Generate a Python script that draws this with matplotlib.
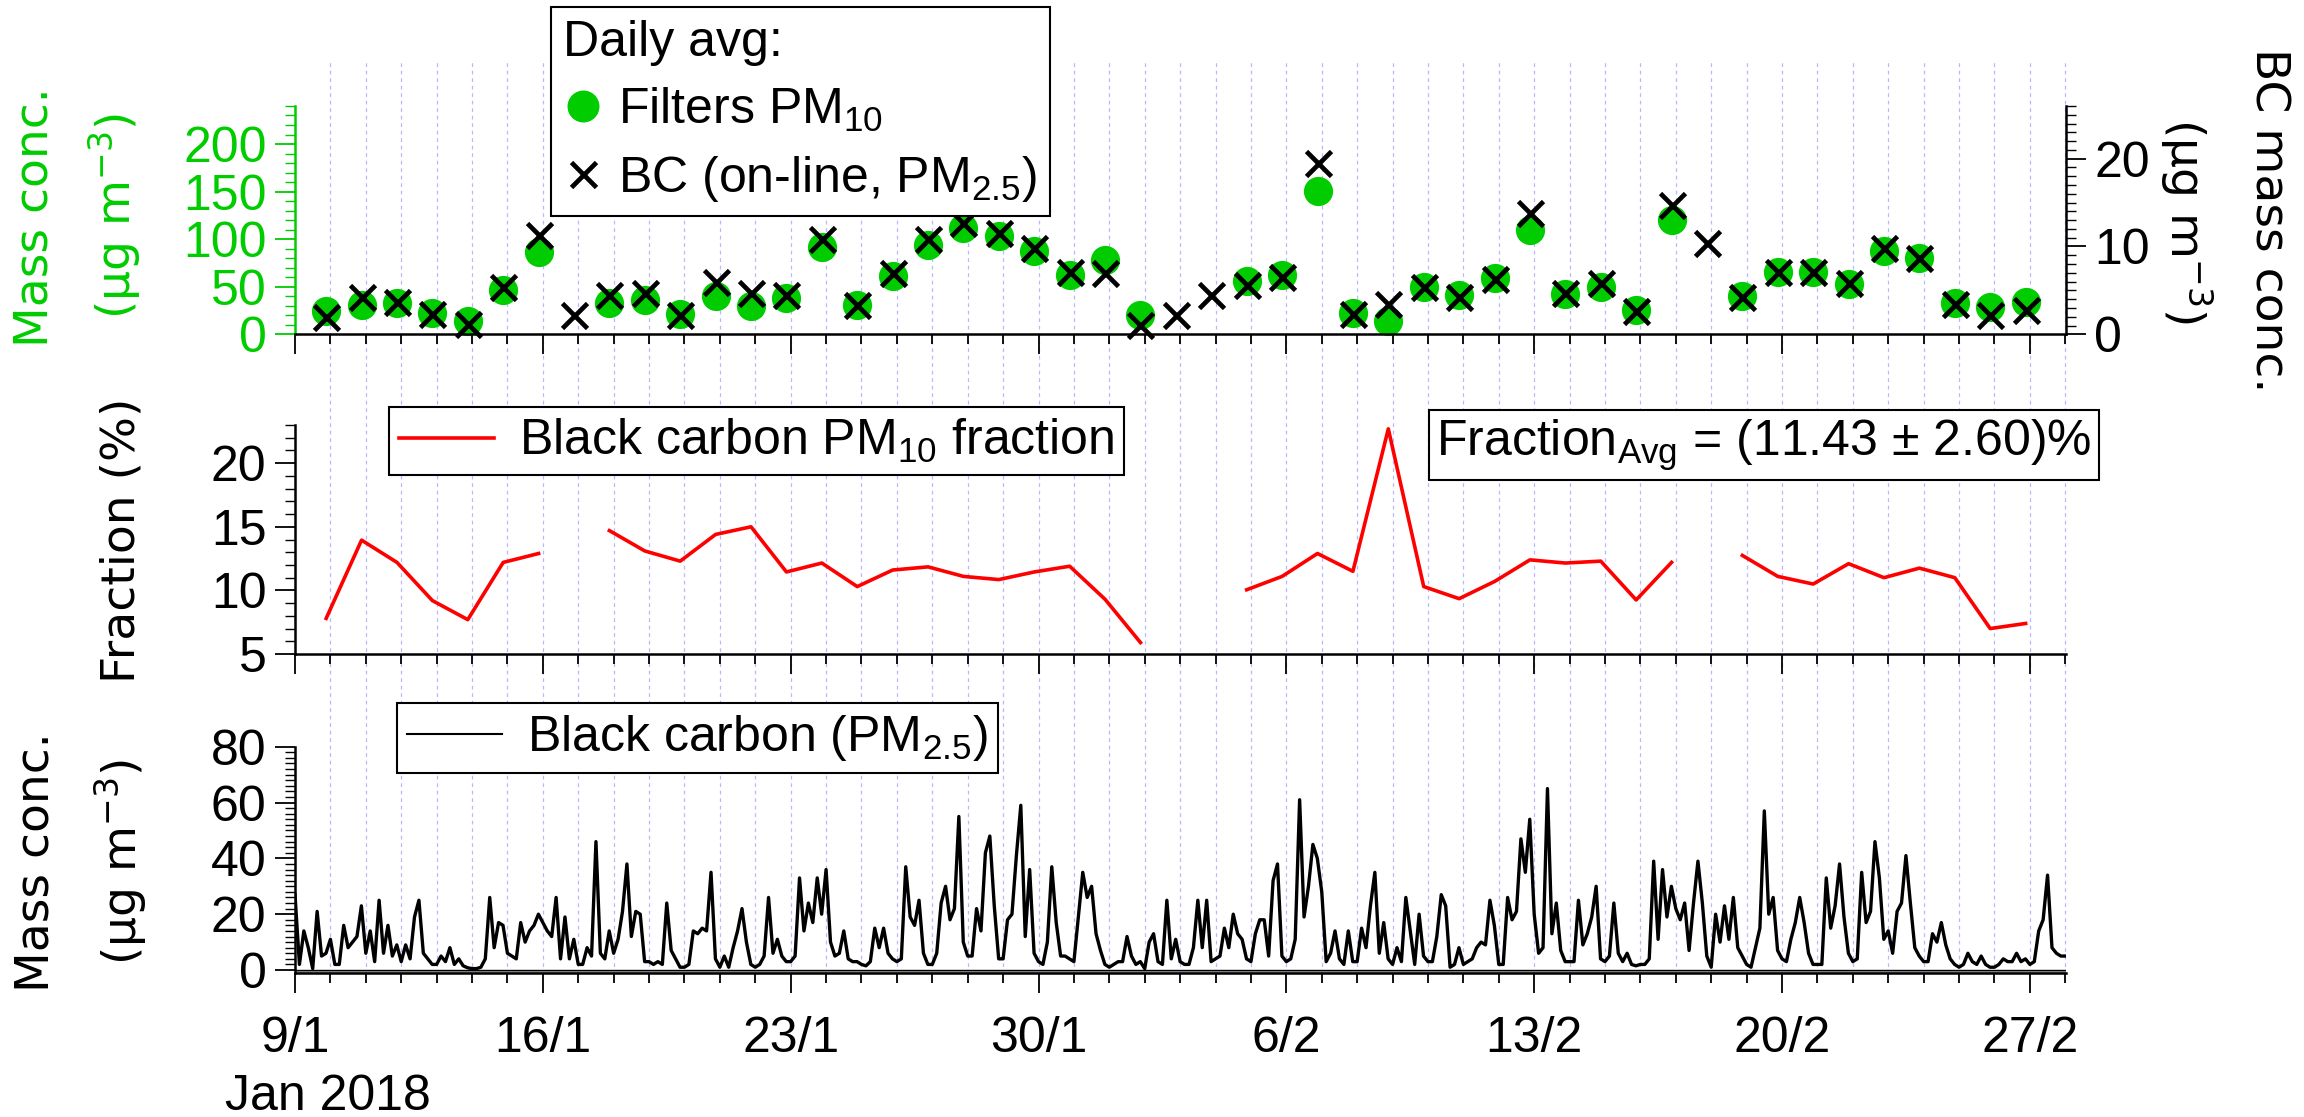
import datetime as dt
import numpy as np
import matplotlib
matplotlib.use("Agg")
import matplotlib.pyplot as plt
import matplotlib.dates as mdates
import matplotlib.transforms as mtransforms
from matplotlib.lines import Line2D
from matplotlib.ticker import MultipleLocator, FixedLocator

plt.rcParams['font.family'] = ['Liberation Sans', 'DejaVu Sans']
plt.rcParams['mathtext.fontset'] = 'custom'
plt.rcParams['mathtext.rm'] = 'Liberation Sans'
plt.rcParams['mathtext.default'] = 'regular'

GREEN = '#00cc00'
FS = 36

# daily values, 10 Jan .. 27 Feb 2018 (nan = no sample)
pm10_filter = [24, 31, 33, 22, 14, 47, 87, np.nan, 33, 36, 21, 40, 30, 38, 92, 31, 61, 94, 112, 103, 88, 62,
               78, 20, np.nan, np.nan, 56, 62, 151, 22, 14, 50, 41, 59, 110, 42, 50, 26, 120, np.nan,
               40, 65, 66, 53, 88, 80, 33, 29, 34]
bc_daily = [2.0, 4.2, 3.7, 2.3, 1.2, 5.4, 11.3, 2.2, 4.5, 4.7, 2.2, 6.0, 4.7, 4.5, 10.8, 3.3, 7.0, 10.9, 12.7, 11.5, 9.8, 7.1,
            7.0, 1.1, 2.2, 4.5, 5.6, 6.5, 19.5, 2.3, 3.5, 5.4, 4.3, 6.3, 13.8, 4.7, 5.8, 2.6, 14.7, 10.4,
            4.3, 7.1, 7.1, 5.8, 9.8, 8.7, 3.5, 2.2, 2.8]
bc_fraction = [7.8, 13.95, 12.2, 9.2, 7.7, 12.2, 12.9, np.nan, 14.7, 13.1, 12.3, 14.4, 15.0, 11.45, 12.15, 10.3, 11.6, 11.85,
               11.1, 10.85, 11.45, 11.9, 9.3, 5.9, np.nan, np.nan, 10.05, 11.1, 12.9, 11.5, 22.7, 10.3, 9.35, 10.7,
               12.4, 12.15, 12.3, 9.25, 12.2, np.nan, 12.75, 11.1, 10.5, 12.1, 11.0, 11.75, 11.0, 7.0, 7.4]

# on-line BC (PM2.5), 3-hourly, one row per day from 9 Jan
bc_3h = [
    [27, 2, 14, 8, 0.5, 21, 5, 6],      # 9/1
    [11, 2, 2, 16, 8, 10, 12, 23],
    [6, 14, 3, 25, 6, 16, 5, 9],
    [3, 9, 4, 19, 25, 6, 4, 2],
    [2, 5, 3, 8, 2, 4, 1.5, 0.8],
    [0.5, 0.5, 1, 4, 26, 8, 17, 16],
    [6, 5, 4, 17, 10, 14, 16, 20],
    [17, 14, 12, 26, 4, 19, 4, 11],     # 16/1
    [2, 2, 8, 5, 46, 6, 4, 14],
    [6, 11, 21, 38, 12, 21, 20, 3],
    [3, 2, 3, 2, 24, 7, 4, 1],
    [1, 2, 14, 13, 15, 14, 35, 4],
    [1, 5, 1, 8, 14, 22, 10, 2],
    [1, 2, 5, 26, 6, 11, 5, 3],
    [3, 5, 33, 14, 24, 17, 33, 20],     # 23/1
    [36, 10, 5, 6, 14, 4, 3, 3],
    [2, 1.5, 3, 15, 8, 15, 6, 4],
    [3, 4, 37, 19, 16, 25, 6, 2],
    [2, 6, 24, 30, 18, 22, 55, 10],
    [5, 5, 22, 14, 42, 48, 23, 4],
    [4, 18, 20, 41, 59, 12, 36, 6],
    [3, 2, 10, 37, 17, 5, 5, 4],        # 30/1
    [3, 19, 35, 26, 30, 13, 7, 2],
    [1, 2, 3, 3, 12, 5, 2, 3],
    [0.5, 10, 13, 3, 2, 25, 4, 11],
    [3, 2, 2, 8, 25, 8, 25, 3],
    [4, 5, 15, 8, 20, 13, 11, 4],
    [3, 13, 18, 18, 5, 32, 38, 5],
    [3, 4, 11, 61, 19, 30, 45, 40],     # 6/2
    [28, 3, 6, 14, 4, 2, 14, 3],
    [3, 15, 8, 23, 35, 6, 17, 4],
    [2, 8, 3, 26, 14, 2, 20, 5],
    [3, 3, 12, 27, 23, 1, 2, 8],
    [2, 3, 4, 8, 10, 9, 25, 16],
    [2, 2, 26, 18, 21, 47, 35, 54],
    [20, 6, 8, 65, 13, 24, 7, 3],       # 13/2
    [3, 3, 25, 9, 13, 19, 30, 4],
    [3, 5, 24, 6, 3, 6, 2, 1.5],
    [2, 2, 4, 39, 11, 36, 19, 30],
    [22, 18, 24, 7, 24, 39, 24, 5],
    [1, 20, 10, 23, 11, 26, 8, 5],
    [2, 1, 8, 15, 57, 20, 26, 7],
    [4, 3, 11, 17, 26, 17, 6, 2],       # 20/2
    [2, 2, 33, 15, 23, 38, 19, 6],
    [3, 4, 35, 17, 21, 46, 33, 11],
    [14, 6, 21, 24, 41, 24, 8, 5],
    [3, 3, 13, 10, 17, 9, 4, 2],
    [1, 2, 6, 3, 2, 5, 2, 1],
    [1, 2, 4, 3, 3, 6, 3, 4],
    [2, 3, 14, 18, 34, 8, 6, 5],        # 27/2
]
bc_last = 5

t_start = dt.datetime(2018, 1, 9)
t_end = dt.datetime(2018, 2, 28, 0, 30)
x0, x1 = mdates.date2num(t_start), mdates.date2num(t_end)
day_nums = x0 + np.arange(0, 51)
week_nums = x0 + np.arange(0, 50, 7)
week_labels = [f"{d.day}/{d.month}" for d in mdates.num2date(week_nums)]

xd = x0 + 1 + np.arange(len(pm10_filter)) - 0.12
bc_vals = [v for row in bc_3h for v in row] + [bc_last]
bc_t = x0 + np.arange(len(bc_vals)) / 8.0

fig = plt.figure(figsize=(23.04, 11.17), dpi=100)
L, W = 0.12804, 0.76866
ax1 = fig.add_axes([L, 0.70072, W, 0.2044])
ax2 = fig.add_axes([L, 0.41450, W, 0.2050])
ax3 = fig.add_axes([L, 0.12847, W, 0.2030])


def style(ax, labels=False):
    ax.set_facecolor('none')
    ax.set_xlim(x0, x1)
    ax.xaxis.set_major_locator(FixedLocator(week_nums))
    ax.xaxis.set_minor_locator(FixedLocator(day_nums))
    if labels:
        ax.set_xticklabels(week_labels)
    ax.tick_params(axis='x', which='major', length=14.5, width=1.3, labelsize=FS, pad=16,
                   labelbottom=labels)
    ax.tick_params(axis='x', which='minor', length=7, width=1.3)
    ax.tick_params(axis='y', which='major', length=14.5, width=1.3, labelsize=FS, pad=6)
    ax.tick_params(axis='y', which='minor', length=7, width=1.0)
    ax.spines['top'].set_visible(False)
    ax.spines['right'].set_visible(False)
    for s in ('left', 'bottom'):
        ax.spines[s].set_linewidth(1.8)


# top: daily filters and BC
style(ax1)
ax1.plot(xd, pm10_filter, ls='none', marker='o', ms=20, color=GREEN, clip_on=False)
ax1.set_ylim(0, 240)
ax1.yaxis.set_major_locator(FixedLocator([0, 50, 100, 150, 200]))
ax1.yaxis.set_minor_locator(MultipleLocator(10))
ax1.tick_params(axis='y', which='both', colors=GREEN)
ax1.spines['left'].set_color(GREEN)

ax1r = ax1.twinx()
ax1r.set_xlim(x0, x1)
ax1r.plot(xd, bc_daily, ls='none', marker='x', ms=18, mew=3.4, color='k', clip_on=False)
ax1r.set_ylim(0, 26)
ax1r.yaxis.set_major_locator(FixedLocator([0, 10, 20]))
ax1r.yaxis.set_minor_locator(MultipleLocator(1))
ax1r.tick_params(axis='y', which='major', length=14.5, width=1.3, labelsize=FS, pad=6)
ax1r.tick_params(axis='y', which='minor', length=7, width=1.0)
for s in ('top', 'left', 'bottom'):
    ax1r.spines[s].set_visible(False)
ax1r.spines['right'].set_linewidth(1.8)

h1 = Line2D([], [], ls='none', marker='o', ms=22, color=GREEN)
h2 = Line2D([], [], ls='none', marker='x', ms=18, mew=3.4, color='k')
leg = ax1r.legend([h1, h2], ['Filters PM$_{10}$', 'BC (on-line, PM$_{2.5}$)'], title='Daily avg:',
                  loc='upper left', bbox_to_anchor=(0.2391, 0.9937), bbox_transform=fig.transFigure,
                  borderaxespad=0, fontsize=FS, title_fontsize=FS, alignment='left',
                  fancybox=False, edgecolor='k', framealpha=1, handlelength=0.8,
                  handletextpad=0.3, borderpad=0.25, labelspacing=0.4)
leg.get_frame().set_linewidth(1.5)

# middle: BC fraction of PM10
style(ax2)
ax2.plot(xd, bc_fraction, color='red', lw=2.6)
ax2.set_ylim(5, 23)
ax2.yaxis.set_major_locator(FixedLocator([5, 10, 15, 20]))
ax2.yaxis.set_minor_locator(MultipleLocator(1))
leg2 = ax2.legend([Line2D([], [], color='red', lw=2.6)], ['Black carbon PM$_{10}$ fraction'],
                  loc='upper left', bbox_to_anchor=(0.1688, 0.6356), bbox_transform=fig.transFigure,
                  borderaxespad=0, fontsize=FS, fancybox=False, edgecolor='k', framealpha=1,
                  handlelength=1.9, handletextpad=0.5, borderpad=0.2)
leg2.get_frame().set_linewidth(1.5)
fig.text(0.6233, 0.6016, 'Fraction$_{Avg}$ = (11.43 \u00b1 2.60)%', fontsize=FS, ha='left', va='center',
         bbox=dict(boxstyle='square,pad=0.15', fc='white', ec='k', lw=1.5))

# bottom: on-line BC time series
style(ax3, labels=True)
ax3.axhspan(-1.25, 0, color='#9a9a9a', lw=0, zorder=1)
ax3.axhline(0, color='k', lw=1.0, zorder=1.5)
ax3.plot(bc_t, bc_vals, color='k', lw=2.4, zorder=2)
ax3.set_ylim(-1.25, 80)
ax3.yaxis.set_major_locator(FixedLocator([0, 20, 40, 60, 80]))
ax3.yaxis.set_minor_locator(MultipleLocator(2))
leg3 = ax3.legend([Line2D([], [], color='k', lw=1.5)], ['Black carbon (PM$_{2.5}$)'],
                  loc='upper left', bbox_to_anchor=(0.1723, 0.3706), bbox_transform=fig.transFigure,
                  borderaxespad=0, fontsize=FS, fancybox=False, edgecolor='k', framealpha=1,
                  handlelength=1.9, handletextpad=0.5, borderpad=0.2)
leg3.get_frame().set_linewidth(1.5)
fig.text(225 / 2304, 0.018, 'Jan 2018', fontsize=FS, ha='left', va='center')

# daily dashed grid running through all panels
trans = mtransforms.blended_transform_factory(ax3.transData, fig.transFigure)
for d in day_nums[1:]:
    fig.add_artist(Line2D([d, d], [0.128, 0.946], transform=trans, color='#b8b8ff',
                          lw=0.9, ls=(0, (3, 3)), zorder=-1))

# axis labels
lab = dict(fontsize=34, family='DejaVu Sans', ha='center', va='center')
fig.text(0.0152, 0.8057, 'Mass conc.', rotation=90, color=GREEN, **lab)
fig.text(0.0495, 0.8066, '(\u00b5g m$^{-3}$)', rotation=90, color=GREEN, **lab)
fig.text(0.9844, 0.8030, 'BC mass conc.', rotation=270, **lab)
fig.text(0.9492, 0.8020, '(\u00b5g m$^{-3}$)', rotation=270, **lab)
fig.text(0.0530, 0.5166, 'Fraction (%)', rotation=90, **lab)
fig.text(0.0156, 0.2283, 'Mass conc.', rotation=90, **lab)
fig.text(0.0521, 0.2283, '(\u00b5g m$^{-3}$)', rotation=90, **lab)

fig.savefig('out.png', dpi=100)
